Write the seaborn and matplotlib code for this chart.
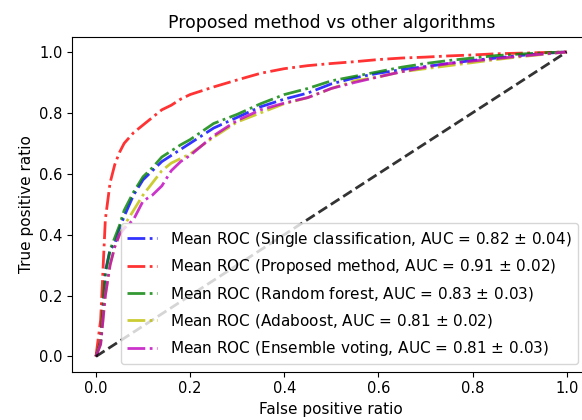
import numpy as np
import pandas as pd
import matplotlib
matplotlib.use("Agg")
import matplotlib.pyplot as plt
import seaborn as sns

# Mean ROC curves
fpr_grid = [0, 0.01, 0.02, 0.03, 0.04, 0.05, 0.06, 0.08, 0.1, 0.12, 0.14, 0.16, 0.18, 0.2,
            0.25, 0.3, 0.35, 0.4, 0.45, 0.5, 0.55, 0.6, 0.65, 0.7, 0.75, 0.8, 0.85, 0.9, 0.95, 1.0]

tpr_single = [0, 0.05, 0.28, 0.35, 0.37, 0.42, 0.46, 0.53, 0.58, 0.61, 0.64, 0.66, 0.68, 0.70,
              0.75, 0.785, 0.82, 0.845, 0.865, 0.895, 0.915, 0.93, 0.942, 0.952, 0.962, 0.972, 0.98, 0.988, 0.995, 1.0]
tpr_proposed = [0, 0.12, 0.45, 0.57, 0.63, 0.67, 0.70, 0.735, 0.76, 0.785, 0.81, 0.825, 0.845, 0.86,
                0.885, 0.908, 0.93, 0.945, 0.955, 0.962, 0.968, 0.975, 0.98, 0.983, 0.987, 0.99, 0.994, 0.996, 0.998, 1.0]
tpr_forest = [0, 0.05, 0.27, 0.35, 0.39, 0.43, 0.48, 0.54, 0.59, 0.62, 0.655, 0.675, 0.695, 0.712,
              0.765, 0.795, 0.83, 0.86, 0.88, 0.905, 0.92, 0.935, 0.95, 0.962, 0.972, 0.98, 0.988, 0.993, 0.997, 1.0]
tpr_adaboost = [0, 0.04, 0.2, 0.3, 0.36, 0.4, 0.43, 0.48, 0.53, 0.57, 0.61, 0.635, 0.65, 0.665,
                0.72, 0.77, 0.80, 0.83, 0.85, 0.88, 0.905, 0.918, 0.935, 0.945, 0.955, 0.965, 0.975, 0.984, 0.992, 1.0]
tpr_voting = [0, 0.04, 0.2, 0.3, 0.36, 0.4, 0.42, 0.45, 0.51, 0.53, 0.56, 0.61, 0.64, 0.66,
              0.725, 0.775, 0.81, 0.832, 0.85, 0.88, 0.9, 0.918, 0.935, 0.95, 0.962, 0.97, 0.978, 0.986, 0.993, 1.0]

labels = [
    "Mean ROC (Single classification, AUC = 0.82 $\\pm$ 0.04)",
    "Mean ROC (Proposed method, AUC = 0.91 $\\pm$ 0.02)",
    "Mean ROC (Random forest, AUC = 0.83 $\\pm$ 0.03)",
    "Mean ROC (Adaboost, AUC = 0.81 $\\pm$ 0.02)",
    "Mean ROC (Ensemble voting, AUC = 0.81 $\\pm$ 0.03)",
]
colors = ['b', 'r', 'g', 'y', 'm']
curves = [tpr_single, tpr_proposed, tpr_forest, tpr_adaboost, tpr_voting]

fig = plt.figure(figsize=(5.82, 4.2), dpi=100)
ax = fig.add_axes([0.1244, 0.115, 0.8897, 0.7976])

for tpr, lab, c in zip(curves, labels, colors):
    sns.lineplot(x=fpr_grid, y=tpr, color=c, linestyle='-.', lw=2, alpha=.8,
                 label=lab, ax=ax)

# chance diagonal
sns.lineplot(x=[0, 1], y=[0, 1], color='k', linestyle='--', lw=2, alpha=.8, ax=ax)

ax.set_xlim(-0.05, 1.05)
ax.set_ylim(-0.05, 1.05)
ax.set_xlabel("False positive ratio", fontsize=11)
ax.set_ylabel("True positive ratio", fontsize=11)
ax.set_title("Proposed method vs other algorithms", fontsize=12.4)
ax.tick_params(labelsize=10.5)
for side in ['top', 'right', 'left', 'bottom']:
    ax.spines[side].set_visible(True)
    ax.spines[side].set_color('black')
ax.legend(loc="lower right", fontsize=11, labelspacing=0.58,
          bbox_to_anchor=(1 - 5 / 518, 0))

fig.savefig("out.png", dpi=100)
